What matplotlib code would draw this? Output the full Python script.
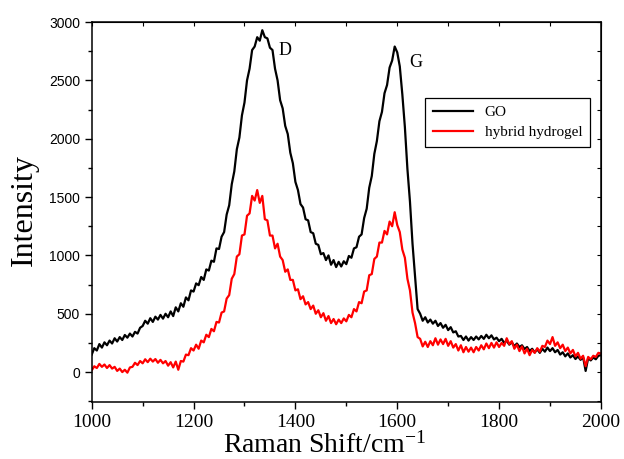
import numpy as np
import matplotlib.pyplot as plt
from matplotlib.ticker import MultipleLocator

shift = np.arange(1000, 2001, 5)

go = [150, 205, 185, 240, 210, 255, 230, 270, 245, 290,
      262, 300, 275, 318, 295, 330, 305, 345, 330, 380,
      395, 440, 415, 462, 430, 475, 450, 490, 458, 500,
      470, 520, 480, 555, 520, 590, 560, 640, 615, 700,
      690, 760, 745, 815, 790, 880, 870, 955, 945, 1060,
      1055, 1160, 1200, 1350, 1430, 1610, 1720, 1910, 2010, 2200,
      2310, 2500, 2600, 2760, 2790, 2870, 2840, 2930, 2870, 2860,
      2780, 2760, 2600, 2500, 2330, 2260, 2110, 2040, 1880, 1790,
      1630, 1560, 1440, 1410, 1310, 1300, 1200, 1190, 1100, 1090,
      1010, 1020, 960, 1000, 920, 960, 900, 945, 905, 950,
      925, 995, 980, 1060, 1070, 1160, 1180, 1320, 1400, 1580,
      1680, 1870, 1980, 2150, 2230, 2390, 2460, 2610, 2670, 2790,
      2740, 2620, 2380, 2100, 1740, 1460, 1100, 820, 540, 500,
      440, 470, 425, 450, 415, 440, 395, 420, 380, 405,
      360, 385, 340, 350, 305, 310, 275, 305, 270, 300,
      275, 305, 280, 310, 285, 320, 290, 315, 280, 295,
      265, 285, 250, 270, 235, 255, 222, 245, 215, 230,
      198, 215, 180, 200, 168, 195, 165, 200, 175, 210,
      180, 205, 170, 190, 150, 170, 135, 160, 125, 145,
      112, 135, 105, 128, 10, 120, 100, 125, 110, 140,
      145]

hydrogel = [15, 50, 35, 70, 45, 65, 35, 60, 30, 45,
            10, 30, 0, 20, -5, 40, 45, 80, 60, 95,
            75, 110, 85, 115, 90, 112, 80, 105, 75, 95,
            55, 85, 40, 90, 20, 95, 90, 150, 145, 205,
            185, 235, 200, 270, 255, 320, 300, 370, 350, 430,
            425, 510, 520, 630, 660, 800, 840, 990, 1010, 1170,
            1180, 1340, 1360, 1510, 1470, 1560, 1450, 1510, 1310, 1300,
            1170, 1170, 1060, 1100, 990, 960, 860, 880, 790, 790,
            700, 710, 625, 650, 580, 600, 540, 570, 500, 530,
            470, 505, 440, 480, 420, 455, 410, 450, 420, 460,
            435, 490, 470, 540, 520, 600, 590, 690, 700, 830,
            840, 970, 990, 1110, 1110, 1210, 1180, 1290, 1250, 1370,
            1260, 1200, 1050, 980, 800, 700, 510, 420, 300, 285,
            220, 260, 215, 265, 230, 290, 235, 280, 240, 285,
            225, 265, 210, 240, 185, 230, 170, 215, 175, 210,
            170, 215, 185, 230, 195, 245, 205, 250, 210, 255,
            215, 250, 225, 290, 240, 265, 200, 235, 180, 220,
            160, 200, 145, 190, 165, 205, 175, 225, 215, 270,
            240, 300, 225, 255, 205, 235, 180, 210, 160, 190,
            135, 165, 115, 140, 50, 130, 110, 140, 130, 165,
            160]

serif = "Liberation Serif"
sans = "Liberation Sans"
plt.rcParams["mathtext.fontset"] = "custom"
plt.rcParams["mathtext.rm"] = serif
plt.rcParams["mathtext.default"] = "rm"

fig = plt.figure(figsize=(6.24, 4.59), dpi=100)
ax = fig.add_axes([0.147, 0.124, 0.816, 0.828])

ax.plot(shift, go, color="black", lw=1.6, label="GO")
ax.plot(shift, hydrogel, color="red", lw=1.6, label="hybrid hydrogel")

ax.set_xlim(1000, 2000)
ax.set_ylim(-257, 3000)
ax.xaxis.set_major_locator(MultipleLocator(200))
ax.xaxis.set_minor_locator(MultipleLocator(100))
ax.yaxis.set_major_locator(MultipleLocator(500))
ax.yaxis.set_minor_locator(MultipleLocator(250))

ax.tick_params(which="both", direction="out", top=False, right=False, width=1)
ax.tick_params(which="major", length=5)
ax.tick_params(which="minor", length=3)
for s in ax.spines.values():
    s.set_linewidth(1.1)

# mirrored inward ticks on top and right
ax2 = ax.secondary_xaxis("top")
ax2.xaxis.set_major_locator(MultipleLocator(100))
ax2.tick_params(direction="in", length=3, labeltop=False)
ax3 = ax.secondary_yaxis("right")
ax3.yaxis.set_major_locator(MultipleLocator(250))
ax3.tick_params(direction="in", length=3, labelright=False)

for t in ax.get_xticklabels():
    t.set_fontfamily(serif)
    t.set_fontsize(14)
for t in ax.get_yticklabels():
    t.set_fontfamily(sans)
    t.set_fontsize(10)

ax.set_xlabel("Raman Shift/cm$^{-1}$", fontfamily=serif, fontsize=20)
ax.xaxis.set_label_coords(0.458, -0.079)
ax.set_ylabel("Intensity", fontfamily=serif, fontsize=23)
ax.yaxis.set_label_coords(-0.104, 0.505)

ax.text(1380, 2760, "D", fontfamily=serif, fontsize=13, ha="center", va="center")
ax.text(1636, 2655, "G", fontfamily=serif, fontsize=13, ha="center", va="center")

leg = ax.legend(loc="upper left", bbox_to_anchor=(0.655, 0.80), prop={"family": serif, "size": 11},
                fancybox=False, edgecolor="black", framealpha=1, borderaxespad=0,
                handlelength=2.6, borderpad=0.5, labelspacing=0.4)
leg.get_frame().set_linewidth(0.9)

fig.savefig("out.png", dpi=100)
